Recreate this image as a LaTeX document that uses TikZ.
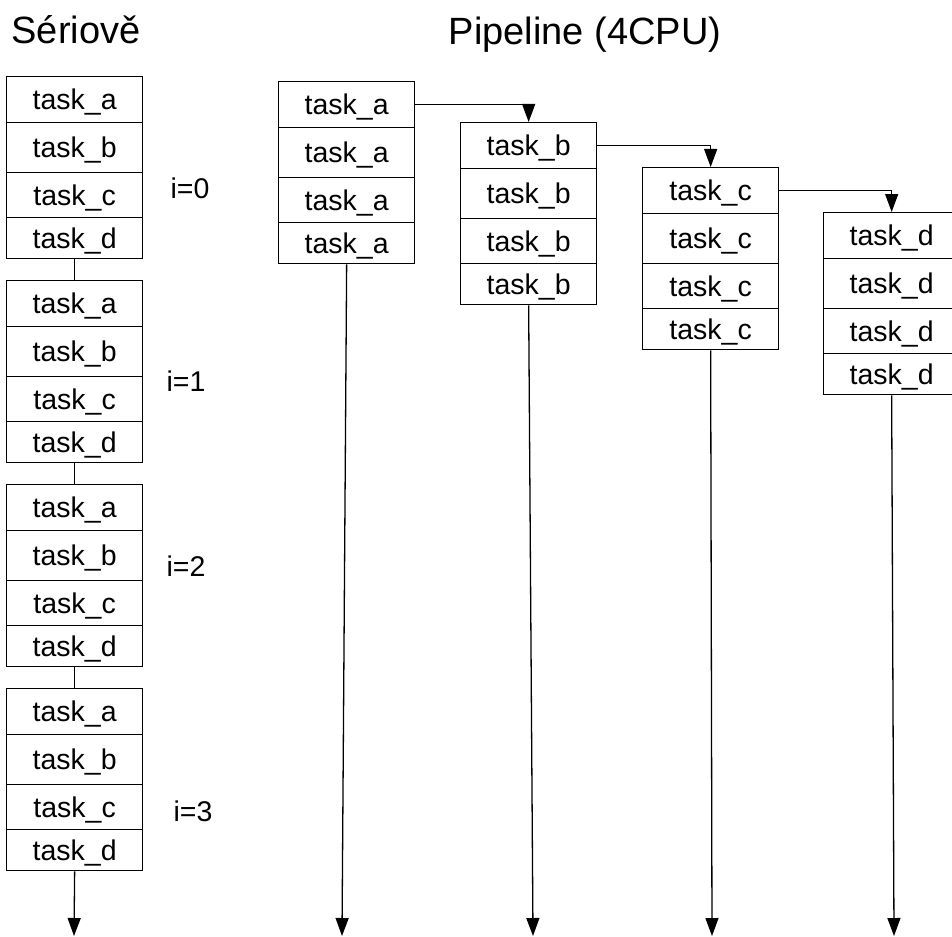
\documentclass[tikz,border=0pt]{standalone}
\usepackage{fontspec}
\setmainfont{Liberation Sans}
\usetikzlibrary{arrows.meta}

\tikzset{
  cell/.style={draw, line width=1.3pt, minimum width=136pt, inner sep=0pt, text depth=0pt, anchor=north west, font=\fontsize{28.5}{34}\selectfont},
  row1/.style={cell, minimum height=46pt},
  row2/.style={cell, minimum height=50pt},
  row3/.style={cell, minimum height=45pt},
  row4/.style={cell, minimum height=41pt},
  link/.style={line width=1.3pt},
  flow/.style={line width=1.3pt, -{Triangle[length=18pt,width=13pt]}},
  title/.style={anchor=base, font=\fontsize{38}{44}\selectfont},
  iter/.style={font=\fontsize{28.5}{34}\selectfont}
}

\begin{document}
\begin{tikzpicture}[x=1pt,y=-1pt]
                        \useasboundingbox (0,0) rectangle (952,936);
                        % titles
                        \node[title] (serialtitle) at (76,44) {Sériově};
                        \node[title] (pipetitle) at (585,45) {Pipeline (4CPU)};
                        % serial, i=0
                        \node[row1] (s0a) at (6,76) {task\_a};
                        \node[row2] (s0b) at (6,122) {task\_b};
                        \node[row3] (s0c) at (6,172) {task\_c};
                        \node[row4] (s0d) at (6,217) {task\_d};
                        % serial, i=1
                        \node[row1] (s1a) at (6,280) {task\_a};
                        \node[row2] (s1b) at (6,326) {task\_b};
                        \node[row3] (s1c) at (6,376) {task\_c};
                        \node[row4] (s1d) at (6,421) {task\_d};
                        % serial, i=2
                        \node[row1] (s2a) at (6,484) {task\_a};
                        \node[row2] (s2b) at (6,530) {task\_b};
                        \node[row3] (s2c) at (6,580) {task\_c};
                        \node[row4] (s2d) at (6,625) {task\_d};
                        % serial, i=3
                        \node[row1] (s3a) at (6,688) {task\_a};
                        \node[row2] (s3b) at (6,734) {task\_b};
                        \node[row3] (s3c) at (6,784) {task\_c};
                        \node[row4] (s3d) at (6,829) {task\_d};
                        \node[iter] (i0) at (190,188) {i=0};
                        \node[iter] (i1) at (186,381) {i=1};
                        \node[iter] (i2) at (186,566) {i=2};
                        \node[iter] (i3) at (193,811) {i=3};
                        \coordinate (serialend) at (74,936);
                        \draw[link] (s0d.south) -- (s1a.north);
                        \draw[link] (s1d.south) -- (s2a.north);
                        \draw[link] (s2d.south) -- (s3a.north);
                        \draw[flow] (s3d.south) -- (serialend);
                        % pipeline, CPU 1
                        \node[row1] (pa1) at (278,81) {task\_a};
                        \node[row2] (pa2) at (278,127) {task\_a};
                        \node[row3] (pa3) at (278,177) {task\_a};
                        \node[row4] (pa4) at (278,222) {task\_a};
                        % pipeline, CPU 2
                        \node[row1] (pb1) at (460,122) {task\_b};
                        \node[row2] (pb2) at (460,168) {task\_b};
                        \node[row3] (pb3) at (460,218) {task\_b};
                        \node[row4] (pb4) at (460,263) {task\_b};
                        % pipeline, CPU 3
                        \node[row1] (pc1) at (642,167) {task\_c};
                        \node[row2] (pc2) at (642,213) {task\_c};
                        \node[row3] (pc3) at (642,263) {task\_c};
                        \node[row4] (pc4) at (642,308) {task\_c};
                        % pipeline, CPU 4
                        \node[row1] (pd1) at (823,212) {task\_d};
                        \node[row2] (pd2) at (823,258) {task\_d};
                        \node[row3] (pd3) at (823,308) {task\_d};
                        \node[row4] (pd4) at (823,353) {task\_d};
                        \draw[flow] (pa1.east) -| (pb1.north);
                        \draw[flow] (pb1.east) -| (pc1.north);
                        \draw[flow] (pc1.east) -| (pd1.north);
                        \coordinate (aend) at (342,936);
                        \coordinate (bend) at (533,936);
                        \coordinate (cend) at (712,936);
                        \coordinate (dend) at (894,936);
                        \draw[flow] (pa4.south) -- (aend);
                        \draw[flow] (pb4.south) -- (bend);
                        \draw[flow] (pc4.south) -- (cend);
                        \draw[flow] (pd4.south) -- (dend);
                    \end{tikzpicture}
\end{document}
